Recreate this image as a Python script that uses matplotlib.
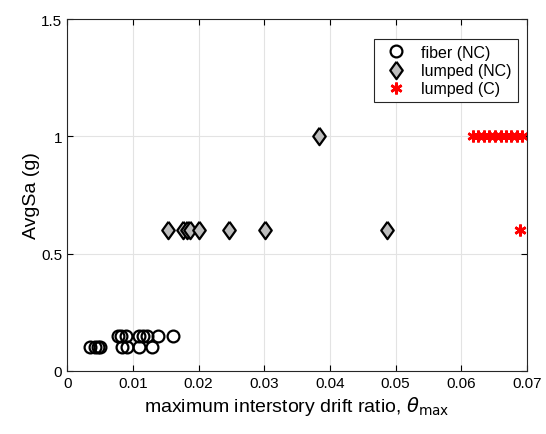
import matplotlib
matplotlib.use("Agg")
import matplotlib.pyplot as plt

plt.rcParams['font.family'] = ['Liberation Sans', 'DejaVu Sans']

# fiber (NC)
fiber_x = [0.0035, 0.0042, 0.0047, 0.0050, 0.0083, 0.0091, 0.0110, 0.0129,
           0.0077, 0.0082, 0.0090, 0.0110, 0.0115, 0.0121, 0.0138, 0.0161]
fiber_y = [0.1, 0.1, 0.1, 0.1, 0.1, 0.1, 0.1, 0.1,
           0.15, 0.15, 0.15, 0.15, 0.15, 0.15, 0.15, 0.15]

# lumped (NC)
lnc_x = [0.0153, 0.0176, 0.0182, 0.0187, 0.0200, 0.0247, 0.0302, 0.0487, 0.0384]
lnc_y = [0.6, 0.6, 0.6, 0.6, 0.6, 0.6, 0.6, 0.6, 1.0]

# lumped (C)
lc_x = [0.0618, 0.0626, 0.0634, 0.0643, 0.0651, 0.0660, 0.0668, 0.0676, 0.0685, 0.0693, 0.0689]
lc_y = [1, 1, 1, 1, 1, 1, 1, 1, 1, 1, 0.6]

diamond = [(0, 1), (0.72, 0), (0, -1), (-0.72, 0), (0, 1)]

fig = plt.figure(figsize=(5.46, 4.35), dpi=100)
ax = fig.add_axes([0.123, 0.145, 0.842, 0.809])

ax.plot(fiber_x, fiber_y, 'o', ms=8.5, mfc='none', mec='black', mew=1.6,
        label='fiber (NC)')
ax.plot(lnc_x, lnc_y, marker=diamond, ls='none', ms=12.5, mfc='#bdbdbd', mec='black', mew=1.6,
        label='lumped (NC)')
ax.plot(lc_x, lc_y, marker=(6, 2, 0), ls='none', ms=8.5, color='red', mec='red', mew=1.9,
        label='lumped (C)')

ax.set_xlim(0, 0.07)
ax.set_ylim(0, 1.5)
ax.set_xticks([0, 0.01, 0.02, 0.03, 0.04, 0.05, 0.06, 0.07])
ax.set_xticklabels(['0', '0.01', '0.02', '0.03', '0.04', '0.05', '0.06', '0.07'])
ax.set_yticks([0, 0.5, 1, 1.5])
ax.set_yticklabels(['0', '0.5', '1', '1.5'])
ax.grid(True, color='#e3e3e3', lw=0.8)
ax.set_axisbelow(True)
ax.tick_params(direction='in', labelsize=11, top=True, right=True, length=4)
for s in ax.spines.values():
    s.set_color('#262626')
    s.set_linewidth(0.8)

ax.set_xlabel(r'maximum interstory drift ratio, $\theta_{\rm max}$', fontsize=14, labelpad=3)
ax.set_ylabel('AvgSa (g)', fontsize=14, labelpad=1)

leg = ax.legend(loc='upper right', fontsize=11.5, fancybox=False, framealpha=1,
                edgecolor='#262626', handletextpad=0.6, borderpad=0.35,
                labelspacing=0.2, bbox_to_anchor=(0.997, 0.965))
leg.get_frame().set_linewidth(0.8)

fig.savefig('out.png', dpi=100)
